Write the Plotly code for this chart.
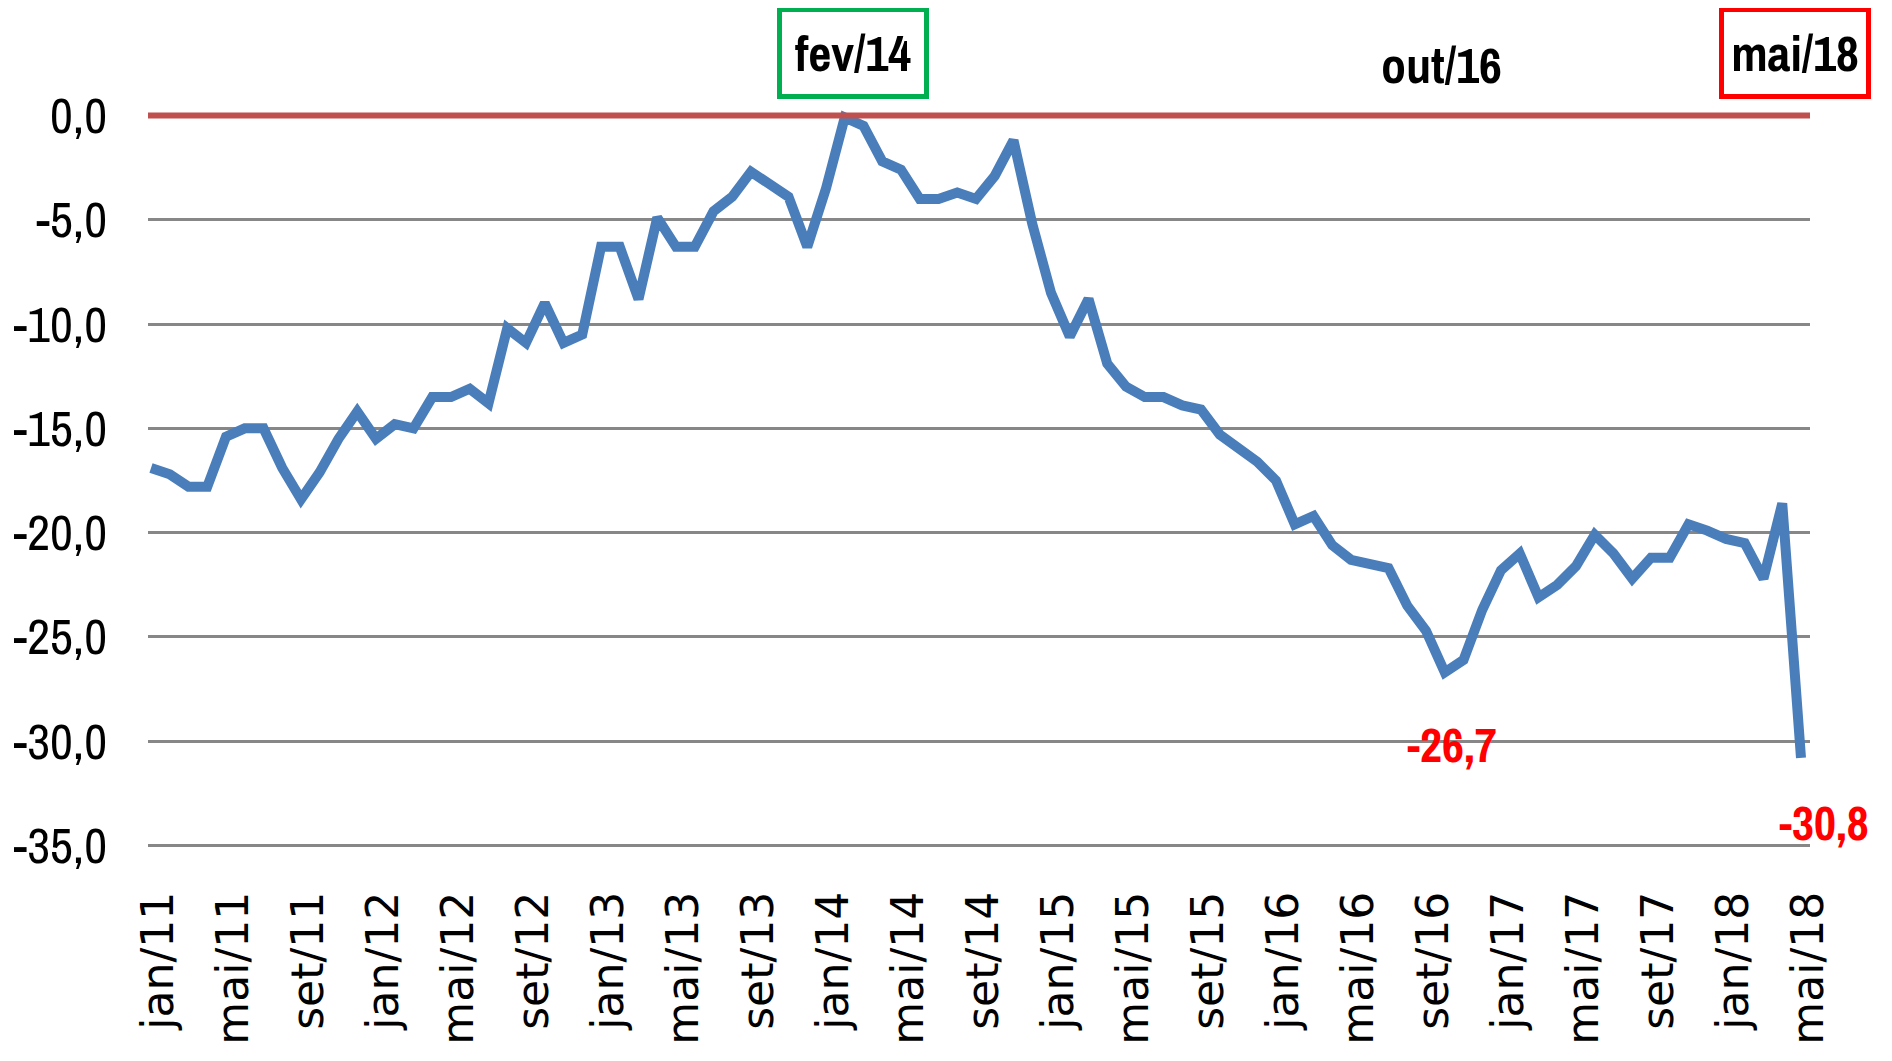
import plotly.graph_objects as go

months = ["jan", "fev", "mar", "abr", "mai", "jun", "jul", "ago", "set", "out", "nov", "dez"]
years = ["11", "12", "13", "14", "15", "16", "17", "18"]
categories = [f"{m}/{y}" for y in years for m in months][:89]  # jan/11 .. mai/18

values = [
    -16.9, -17.2, -17.8, -17.8, -15.4, -15.0, -15.0, -16.9, -18.4, -17.1, -15.5, -14.2,   # 2011
    -15.5, -14.8, -15.0, -13.5, -13.5, -13.1, -13.8, -10.2, -10.9, -9.0, -10.9, -10.5,     # 2012
    -6.3, -6.3, -8.8, -4.9, -6.3, -6.3, -4.6, -3.9, -2.7, -3.3, -3.9, -6.3,                # 2013
    -3.5, -0.1, -0.5, -2.2, -2.6, -4.0, -4.0, -3.7, -4.0, -2.9, -1.2, -5.2,                # 2014
    -8.5, -10.6, -8.8, -11.9, -13.0, -13.5, -13.5, -13.9, -14.1, -15.3, -15.9, -16.6,      # 2015
    -17.5, -19.6, -19.2, -20.6, -21.3, -21.5, -21.7, -23.5, -24.7, -26.7, -26.1, -23.7,    # 2016
    -21.8, -21.0, -23.1, -22.5, -21.6, -20.1, -21.0, -22.2, -21.2, -21.2, -19.6, -19.9,    # 2017
    -20.3, -20.5, -22.2, -18.6, -30.8,                                                    # 2018
]

tick_step = 4
tick_idx = list(range(0, len(categories), tick_step))
tick_text = [categories[i] for i in tick_idx]

y_ticks = [0, -5, -10, -15, -20, -25, -30, -35]
reference_level = 0.0

highlight_green = "fev/14"
highlight_plain = "out/16"
highlight_red = "mai/18"
labelled_points = ["out/16", "mai/18"]

BLUE = "#4A7EBB"
NARROW = "Archivo Narrow, Roboto Condensed, Liberation Sans Narrow, sans-serif"


def fmt(v):
    return f"{v:.1f}".replace(".", ",")


x = list(range(len(categories)))

fig = go.Figure()
fig.add_trace(go.Scatter(
    x=x, y=values, mode="lines",
    line=dict(color=BLUE, width=10, shape="linear"),
    hoverinfo="skip", showlegend=False,
))

fig.add_shape(type="line", xref="paper", yref="y", x0=0, x1=1,
              y0=reference_level, y1=reference_level,
              line=dict(color="#C0504D", width=6), layer="above")

label_offsets = {"out/16": (7, -72), "mai/18": (23, -65)}
for c in labelled_points:
    i = categories.index(c)
    dx, dy = label_offsets[c]
    fig.add_annotation(x=i, y=values[i], xref="x", yref="y", text=fmt(values[i]),
                       showarrow=False, xshift=dx, yshift=dy,
                       font=dict(family=NARROW, size=48, color="#FF0000", weight="bold"))

top_specs = [
    (highlight_green, 8, 52, "#00B050"),
    (highlight_plain, -3, 40, None),
    (highlight_red, -6, 52, "#FF0000"),
]
for c, dx, dy, bc in top_specs:
    kw = dict(x=categories.index(c), xref="x", y=1, yref="paper", text=c,
              showarrow=False, xshift=dx, yshift=dy, yanchor="middle",
              font=dict(family=NARROW, size=50, color="#000000", weight="bold"))
    if bc:
        kw.update(bordercolor=bc, borderwidth=5, borderpad=4, width=134, height=74,
                  bgcolor="rgba(255,255,255,0)")
    fig.add_annotation(**kw)

# the page body adds an 8 px offset, compensated in the margins
fig.update_layout(
    width=1892, height=1061,
    margin=dict(l=140, r=90, t=97, b=213),
    paper_bgcolor="white", plot_bgcolor="white",
    xaxis=dict(
        range=[-0.16, 88.48], tickmode="array", tickvals=tick_idx, ticktext=tick_text,
        tickangle=-90, showgrid=False, zeroline=False, showline=False, ticks="",
        tickfont=dict(family="DejaVu Sans, sans-serif", size=44, color="#000000"),
        ticklabelstandoff=26, ticklabelshift=8, automargin=False,
    ),
    yaxis=dict(
        range=[-35.5, 0.5], tickmode="array", tickvals=y_ticks,
        ticktext=[fmt(v) if v != 0 else "0,0" for v in y_ticks],
        showgrid=True, gridcolor="#878787", gridwidth=3, zeroline=False, showline=False,
        ticks="", tickfont=dict(family=NARROW, size=50, color="#000000"),
        ticklabelstandoff=40, automargin=False,
    ),
)

fig.write_html("out.html")
